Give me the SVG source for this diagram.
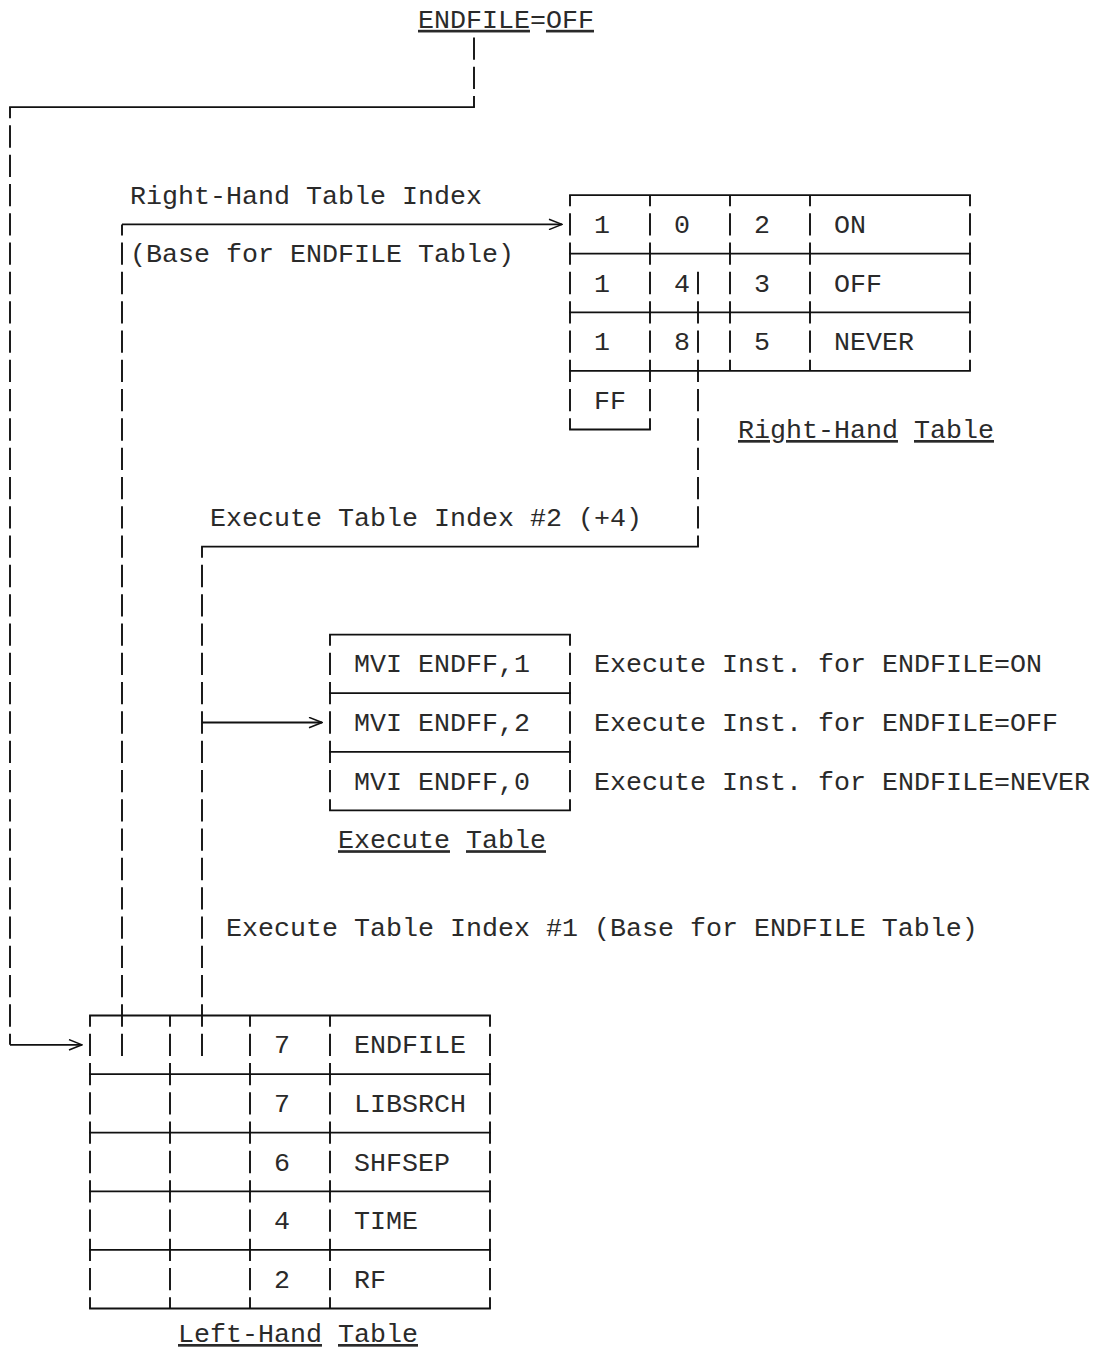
<svg xmlns="http://www.w3.org/2000/svg" width="1098" height="1351" viewBox="0 0 1098 1351">
<style>
text{font-family:"Liberation Mono","Courier New",monospace;font-size:26.67px;fill:#2a2a2a}
.u{text-decoration:underline}
.h{stroke:#111;stroke-width:1.8;fill:none;stroke-linecap:square}
.a{stroke:#111;stroke-width:1.8;fill:none;stroke-linecap:butt}
.v{stroke:#111;stroke-width:1.9;fill:none;stroke-dasharray:22.3 7}
.vc{stroke-dashoffset:11.15}
</style>
<defs>
<marker id="arr" markerUnits="userSpaceOnUse" viewBox="0 0 15 12" refX="14" refY="6" markerWidth="15" markerHeight="12" orient="auto">
<path d="M1,0.8 L14,6 L1,11.2" fill="none" stroke="#111" stroke-width="1.5"/>
</marker>
</defs>
<rect width="1098" height="1351" fill="#fff"/>

<g id="endfile-off">
<text x="418" y="27.8"><tspan class="u">ENDFILE</tspan>=<tspan class="u">OFF</tspan></text>
</g>

<g id="right-hand-table">
<line class="h" x1="570" y1="195.1" x2="970" y2="195.1"/>
<line class="h" x1="570" y1="253.7" x2="970" y2="253.7"/>
<line class="h" x1="570" y1="312.3" x2="970" y2="312.3"/>
<line class="h" x1="570" y1="370.9" x2="970" y2="370.9"/>
<line class="h" x1="570" y1="429.5" x2="650" y2="429.5"/>
<line class="v vc" x1="570" y1="195.1" x2="570" y2="429.5"/>
<line class="v vc" x1="650" y1="195.1" x2="650" y2="429.5"/>
<line class="v vc" x1="730" y1="195.1" x2="730" y2="370.9"/>
<line class="v vc" x1="810" y1="195.1" x2="810" y2="370.9"/>
<line class="v vc" x1="970" y1="195.1" x2="970" y2="370.9"/>
<text x="594" y="232.9">1</text><text x="674" y="232.9">0</text><text x="754" y="232.9">2</text><text x="834" y="232.9">ON</text>
<text x="594" y="291.5">1</text><text x="674" y="291.5">4</text><text x="754" y="291.5">3</text><text x="834" y="291.5">OFF</text>
<text x="594" y="350.1">1</text><text x="674" y="350.1">8</text><text x="754" y="350.1">5</text><text x="834" y="350.1">NEVER</text>
<text x="594" y="408.7">FF</text>
<text x="738" y="438"><tspan class="u">Right-Hand</tspan><tspan x="914" class="u">Table</tspan></text>
</g>

<g id="execute-table">
<line class="h" x1="330" y1="634.6" x2="570" y2="634.6"/>
<line class="h" x1="330" y1="693.2" x2="570" y2="693.2"/>
<line class="h" x1="330" y1="751.8" x2="570" y2="751.8"/>
<line class="h" x1="330" y1="810.4" x2="570" y2="810.4"/>
<line class="v vc" x1="330" y1="634.6" x2="330" y2="810.4"/>
<line class="v vc" x1="570" y1="634.6" x2="570" y2="810.4"/>
<text x="354" y="672.4">MVI ENDFF,1</text>
<text x="354" y="731">MVI ENDFF,2</text>
<text x="354" y="789.6">MVI ENDFF,0</text>
<text x="594" y="672.4">Execute Inst. for ENDFILE=ON</text>
<text x="594" y="731">Execute Inst. for ENDFILE=OFF</text>
<text x="594" y="789.6">Execute Inst. for ENDFILE=NEVER</text>
<text x="338" y="848.2"><tspan class="u">Execute</tspan><tspan x="466" class="u">Table</tspan></text>
</g>

<g id="left-hand-table">
<line class="h" x1="90" y1="1015.5" x2="490" y2="1015.5"/>
<line class="h" x1="90" y1="1074.1" x2="490" y2="1074.1"/>
<line class="h" x1="90" y1="1132.7" x2="490" y2="1132.7"/>
<line class="h" x1="90" y1="1191.3" x2="490" y2="1191.3"/>
<line class="h" x1="90" y1="1249.9" x2="490" y2="1249.9"/>
<line class="h" x1="90" y1="1308.5" x2="490" y2="1308.5"/>
<line class="v vc" x1="90" y1="1015.5" x2="90" y2="1308.5"/>
<line class="v vc" x1="170" y1="1015.5" x2="170" y2="1308.5"/>
<line class="v vc" x1="250" y1="1015.5" x2="250" y2="1308.5"/>
<line class="v vc" x1="330" y1="1015.5" x2="330" y2="1308.5"/>
<line class="v vc" x1="490" y1="1015.5" x2="490" y2="1308.5"/>
<text x="274" y="1053.3">7</text><text x="354" y="1053.3">ENDFILE</text>
<text x="274" y="1111.9">7</text><text x="354" y="1111.9">LIBSRCH</text>
<text x="274" y="1170.5">6</text><text x="354" y="1170.5">SHFSEP</text>
<text x="274" y="1229.1">4</text><text x="354" y="1229.1">TIME</text>
<text x="274" y="1287.7">2</text><text x="354" y="1287.7">RF</text>
<text x="178" y="1342"><tspan class="u">Left-Hand</tspan><tspan x="338" class="u">Table</tspan></text>
</g>

<g id="connectors">
<line class="v" x1="474" y1="37.45" x2="474" y2="107.2"/>
<line class="h" x1="10" y1="107.2" x2="474" y2="107.2"/>
<line class="v vc" x1="10" y1="107.2" x2="10" y2="1044.8"/>
<line class="a" x1="10" y1="1044.8" x2="82" y2="1044.8" marker-end="url(#arr)"/>
<line class="a" x1="122" y1="224.4" x2="562" y2="224.4" marker-end="url(#arr)"/>
<line class="v vc" x1="122" y1="224.4" x2="122" y2="1055.95"/>
<line class="v" x1="698" y1="271.85" x2="698" y2="546.7"/>
<line class="h" x1="202" y1="546.7" x2="698" y2="546.7"/>
<line class="v vc" x1="202" y1="546.7" x2="202" y2="1055.95"/>
<line class="a" x1="202" y1="722.5" x2="322" y2="722.5" marker-end="url(#arr)"/>
</g>

<g id="labels">
<text x="130" y="203.6">Right-Hand Table Index</text>
<text x="130" y="262.2">(Base for ENDFILE Table)</text>
<text x="210" y="525.9">Execute Table Index #2 (+4)</text>
<text x="226" y="936.1">Execute Table Index #1 (Base for ENDFILE Table)</text>
</g>
</svg>
